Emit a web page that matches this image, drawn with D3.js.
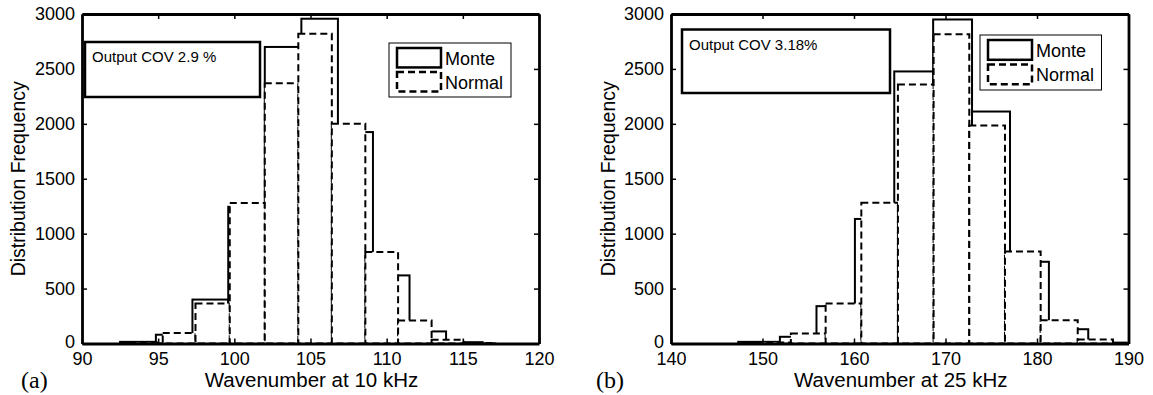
<!DOCTYPE html>
<html><head><meta charset="utf-8">
<script src="https://d3js.org/d3.v7.min.js"></script>
<style>body{margin:0;background:#fff;}svg{display:block;font-family:"Liberation Sans",Arial,sans-serif;}</style>
</head><body>
<script>
// ---- data ----
const yTicks = [0, 500, 1000, 1500, 2000, 2500, 3000];
const xTicksA = [90, 95, 100, 105, 110, 115, 120];
const xTicksB = [140, 150, 160, 170, 180, 190];

// Panel (a): 10 kHz
const monteEdgesA = [92.5, 94.85, 97.25, 99.6, 102.0, 104.4, 106.8, 109.1, 111.5, 113.9, 116.3];
const monteCountsA = [15, 80, 400, 1245, 2700, 2957, 1925, 620, 110, 12];
const normalEdgesA = [93.1, 95.3, 97.45, 99.7, 102.0, 104.2, 106.4, 108.6, 110.75, 112.95, 115.05, 117.2];
const normalCountsA = [10, 95, 364, 1280, 2370, 2820, 2000, 834, 210, 35, 5];

// Panel (b): 25 kHz
const monteEdgesB = [147.35, 151.9, 155.9, 160.1, 164.4, 168.65, 172.9, 177.05, 181.3, 185.6, 189.8];
const monteCountsB = [15, 61, 340, 1134, 2477, 2950, 2112, 744, 130, 8];
const normalEdgesB = [149.2, 153.1, 156.9, 160.8, 164.8, 168.7, 172.6, 176.5, 180.4, 184.45, 188.3];
const normalCountsB = [10, 91, 364, 1282, 2357, 2815, 1985, 837, 212, 36];

const panels = [
  {tag:"(a)", xlabel:"Wavenumber at 10 kHz", note:"Output COV 2.9 %", xdom:[90,120], xticks:xTicksA,
   mE:monteEdgesA, mC:monteCountsA, nE:normalEdgesA, nC:normalCountsA,
   left:82, right:539, noteBox:[85,42,260,97], legBox:[389,43,511,97], tagX:21, ylabX:18},
  {tag:"(b)", xlabel:"Wavenumber at 25 kHz", note:"Output COV 3.18%", xdom:[140,190], xticks:xTicksB,
   mE:monteEdgesB, mC:monteCountsB, nE:normalEdgesB, nC:normalCountsB,
   left:671, right:1128.5, noteBox:[682,29.5,890,93], legBox:[980,35,1101.5,90], tagX:596, ylabX:608}
];

const W = 1153, H = 395, plotTop = 14, plotBottom = 343.5;
const svg = d3.select("body").append("svg").attr("width", W).attr("height", H);

panels.forEach(p => {
  const x = d3.scaleLinear().domain(p.xdom).range([p.left, p.right]);
  const y = d3.scaleLinear().domain([0, 3000]).range([plotBottom, plotTop]);
  const g = svg.append("g");

  const bins = (E, C) => C.map((c, i) => ({x0:E[i], x1:E[i+1], c}));
  // Monte bars (solid)
  g.selectAll("rect.m").data(bins(p.mE, p.mC)).join("rect").attr("class", "m")
    .attr("x", d => x(d.x0)).attr("width", d => x(d.x1) - x(d.x0))
    .attr("y", d => y(d.c)).attr("height", d => y(0) - y(d.c))
    .attr("fill", "#fff").attr("stroke", "#000").attr("stroke-width", 2);
  // Normal bars (dashed)
  g.selectAll("rect.n").data(bins(p.nE, p.nC)).join("rect").attr("class", "n")
    .attr("x", d => x(d.x0)).attr("width", d => x(d.x1) - x(d.x0))
    .attr("y", d => y(d.c)).attr("height", d => y(0) - y(d.c))
    .attr("fill", "#fff").attr("stroke", "#000").attr("stroke-width", 2)
    .attr("stroke-dasharray", "7,4");

  // axes
  const ax = g.append("g").attr("transform", `translate(0,${plotBottom})`)
    .call(d3.axisBottom(x).tickValues(p.xticks).tickFormat(d3.format("d")).tickSizeInner(-5).tickSizeOuter(0).tickPadding(9));
  const axT = g.append("g").attr("transform", `translate(0,${plotTop})`)
    .call(d3.axisTop(x).tickValues(p.xticks).tickSizeInner(-5).tickSizeOuter(0).tickFormat(""));
  const ay = g.append("g").attr("transform", `translate(${p.left},0)`)
    .call(d3.axisLeft(y).tickValues(yTicks).tickFormat(d3.format("d")).tickSizeInner(-5).tickSizeOuter(0).tickPadding(7));
  const ayR = g.append("g").attr("transform", `translate(${p.right},0)`)
    .call(d3.axisRight(y).tickValues(yTicks).tickSizeInner(-5).tickSizeOuter(0).tickFormat(""));
  [ax, axT, ay, ayR].forEach(a => {
    a.select(".domain").attr("stroke", "#000").attr("stroke-width", 2.8);
    a.selectAll(".tick line").attr("stroke", "#000").attr("stroke-width", 1.5);
    a.selectAll("text").attr("fill", "#000").style("font-size", "18px")
      .style("font-family", '"Liberation Sans",Arial,sans-serif');
  });
  ay.selectAll("text").attr("dy", d => d === 0 ? "0.22em" : "0.32em");

  // axis labels
  g.append("text").attr("x", (p.left + p.right) / 2 + 1).attr("y", 387).attr("text-anchor", "middle")
    .style("font-size", "20.5px").text(p.xlabel);
  g.append("text").attr("transform", `translate(${p.ylabX + 7},${(plotTop + plotBottom) / 2}) rotate(-90)`)
    .attr("text-anchor", "middle").style("font-size", "19.5px").text("Distribution Frequency");
  g.append("text").attr("x", p.tagX).attr("y", 388)
    .style("font-family", '"Liberation Serif","Times New Roman",serif').style("font-size", "24px").text(p.tag);

  // annotation box
  const nb = p.noteBox;
  g.append("rect").attr("x", nb[0]).attr("y", nb[1]).attr("width", nb[2] - nb[0]).attr("height", nb[3] - nb[1])
    .attr("fill", "#fff").attr("stroke", "#000").attr("stroke-width", 2.5);
  g.append("text").attr("x", nb[0] + 7).attr("y", nb[1] + 20).style("font-size", "15px").text(p.note);

  // legend
  const lb = p.legBox;
  g.append("rect").attr("x", lb[0]).attr("y", lb[1]).attr("width", lb[2] - lb[0]).attr("height", lb[3] - lb[1])
    .attr("fill", "#fff").attr("stroke", "#000").attr("stroke-width", 1);
  const lh = lb[3] - lb[1];
  const sx = lb[0] + 8, sw = 44;
  [["Monte", null], ["Normal", "7,4"]].forEach((e, i) => {
    const yy = lb[1] + 5 + i * lh / 2.25;
    g.append("rect").attr("x", sx).attr("y", yy).attr("width", sw).attr("height", lh * 0.36)
      .attr("fill", "#fff").attr("stroke", "#000").attr("stroke-width", 2.5)
      .attr("stroke-dasharray", e[1]);
    g.append("text").attr("x", sx + sw + 4).attr("y", yy + lh * 0.31)
      .style("font-size", "18px").text(e[0]);
  });
});
</script>
</body></html>
